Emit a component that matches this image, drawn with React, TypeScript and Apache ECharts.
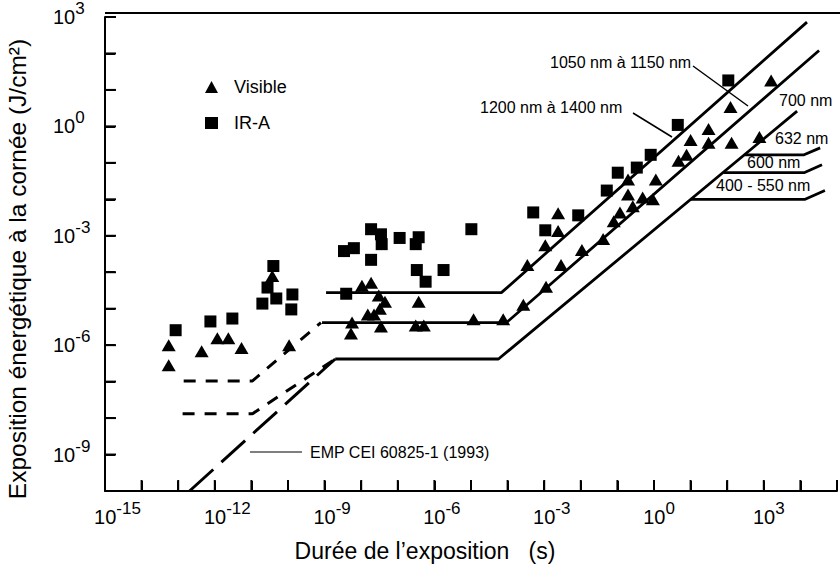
import React, { useEffect, useRef } from 'react';
import * as echarts from 'echarts';

const FONT = '"Liberation Sans", Arial, Helvetica, sans-serif';

// All values are log10: duration (s) and radiant exposure (J/cm²)
// Visible (triangles)
const visibleLogT = [
  -13.26, -13.26, -12.36, -11.93, -11.63, -11.27, -10.43, -9.97,
  -7.98, -7.73, -7.52, -7.35, -7.49, -7.65, -7.82, -8.25, -8.28, -7.46, -6.43, -6.51, -6.29, -4.93, -4.12,
  -2.62, -2.62, -2.97, -3.46, -3.57, -2.95, -2.54, -1.97, -1.39, -1.10, -0.93, -0.71, -0.71, -0.58, -0.31, -0.03, 0.05,
  0.67, 0.89, 1.0, 1.49, 1.49, 2.09, 2.12, 2.88, 3.2,
];
const visibleLogH = [
  -6.0, -6.55, -6.17, -5.81, -5.81, -6.08, -4.1, -6.0,
  -4.37, -4.29, -4.64, -4.81, -5.0, -5.16, -5.16, -5.38, -5.68, -5.49, -4.81, -5.46, -5.46, -5.29, -5.29,
  -2.38, -2.87, -3.26, -3.8, -4.89, -4.4, -3.8, -3.39, -3.09, -2.6, -2.36, -1.87, -1.46, -2.19, -1.95, -2.0, -1.46,
  -0.94, -0.78, -0.37, -0.07, -0.45, 0.53, -0.45, -0.29, 1.26,
];
// IR-A (squares)
const irLogT = [
  -13.07, -12.12, -11.52, -10.4, -10.56, -10.7, -10.32, -9.88, -9.91,
  -8.41, -8.47, -8.2, -7.73, -7.46, -7.44, -7.73, -6.95, -6.43, -6.51, -6.48, -6.24, -5.75, -4.99,
  -3.3, -2.97, -2.07, -1.29, -0.99, -0.47, -0.09, 0.65, 2.03,
];
const irLogH = [
  -5.59, -5.35, -5.27, -3.83, -4.42, -4.86, -4.72, -4.61, -5.02,
  -4.59, -3.42, -3.34, -2.82, -2.96, -3.23, -3.66, -3.06, -3.04, -3.23, -3.94, -4.26, -3.94, -2.82,
  -2.36, -2.85, -2.44, -1.76, -1.27, -1.13, -0.78, 0.04, 1.26,
];

// Limit curves (log10 t, log10 H)
const c1200LogT = [-8.96, -4.17, 4.18];
const c1200LogH = [-4.56, -4.56, 2.86];
const c1050LogT = [-9.07, -4.03, 4.51];
const c1050LogH = [-5.38, -5.38, 2.08];
const c700LogT = [-8.71, -4.25, 3.91];
const c700LogH = [-6.38, -6.38, 0.42];
const b632LogT = [2.47, 4.1, 4.54];
const b632LogH = [-0.78, -0.78, -0.59];
const b600LogT = [1.9, 4.1, 4.59];
const b600LogH = [-1.27, -1.27, -1.05];
const b400LogT = [1.0, 4.13, 4.67];
const b400LogH = [-2.0, -2.0, -1.76];
const dashUpLogT = [-12.85, -10.97, -9.1];
const dashUpLogH = [-6.98, -6.98, -5.38];
const dashLowLogT = [-12.88, -10.97, -8.71];
const dashLowLogH = [-7.88, -7.88, -6.38];
const emp1993LogT = [-12.69, -8.71];
const emp1993LogH = [-10, -6.38];

const xMin = -15, xMax = 5, yMin = -10, yMax = 3;
const xTickValues = [-15, -14, -13, -12, -11, -10, -9, -8, -7, -6, -5, -4, -3, -2, -1, 0, 1, 2, 3, 4, 5];
const yTickValues = [-10, -9, -8, -7, -6, -5, -4, -3, -2, -1, 0, 1, 2, 3];

const supW: Record<number, number> = { 1: 10, 2: 15, 3: 25 };

export default function App() {
  const ref = useRef<HTMLDivElement>(null);
  useEffect(() => {
    const chart = echarts.init(ref.current!, null, { renderer: 'svg' });
    const pairs = (t: number[], h: number[]) => t.map((x, i) => [x, h[i]]);
    const line = (name: string, t: number[], h: number[], type: any, width = 2.8) => ({
      type: 'line', name, data: pairs(t, h), symbol: 'none', silent: true, z: 2,
      lineStyle: { color: '#000', width, type, cap: 'butt' },
    });
    const rich = {
      b: { fontSize: 20, lineHeight: 34, fontFamily: FONT, color: '#000' },
      s: { fontSize: 17, lineHeight: 16, verticalAlign: 'top', fontFamily: FONT, color: '#000' },
      w1: { width: supW[1], lineHeight: 16, fontSize: 17 },
      w2: { width: supW[2], lineHeight: 16, fontSize: 17 },
      w3: { width: supW[3], lineHeight: 16, fontSize: 17 },
    };
    const isDecade3 = (v: number) => {
      const n = Math.round(v);
      return Math.abs(v - n) < 1e-6 && n % 3 === 0 ? n : null;
    };
    const tx = (text: string, x: number, y: number, size = 16) => ({
      type: 'text', x, y, silent: true,
      style: { text, fontSize: size, fontFamily: FONT, fill: '#000', verticalAlign: 'middle', textVerticalAlign: 'middle' },
    });
    const ln = (x1: number, y1: number, x2: number, y2: number, w = 1.5) => ({
      type: 'line', silent: true, z: 10, shape: { x1, y1, x2, y2 }, style: { stroke: '#000', lineWidth: w },
    });
    // inside tick marks as small bars placed through the axes' scales
    const tickMarks = (values: number[], dir: 'x' | 'y') => ({
      type: 'scatter', silent: true, z: 6, clip: false,
      data: values.map((v) => (dir === 'x' ? [v, yMin] : [xMin, v])),
      symbol: 'rect',
      symbolSize: dir === 'x' ? [2, 11] : [11, 2],
      symbolOffset: dir === 'x' ? [0, -5.5] : [5.5, 0],
      itemStyle: { color: '#000', opacity: 1 },
      emphasis: { disabled: true },
    });
    const tick = { show: true, inside: true, length: 10, lineStyle: { color: '#000', width: 2 } };
    chart.setOption({
      animation: false,
      backgroundColor: '#fff',
      grid: { left: 105, right: 0, top: 13, bottom: 77, containLabel: false },
      legend: {
        data: ['Visible', 'IR-A'], orient: 'vertical', left: 200, top: 73,
        itemWidth: 13, itemHeight: 12, itemGap: 18, selectedMode: false,
        textStyle: { fontSize: 18, fontFamily: FONT, color: '#000', lineHeight: 18, padding: [0, 0, 0, 11] },
      },
      xAxis: {
        type: 'value', min: xMin, max: xMax, interval: 1,
        axisLine: { show: true, onZero: false, lineStyle: { color: '#000', width: 2 } },
        axisTick: tick,
        splitLine: { show: false },
        axisLabel: {
          interval: 0, margin: 9, rich,
          formatter: (v: number) => {
            const n = isDecade3(v);
            if (n === null) return '';
            const s = String(n);
            return `{w${s.length}| }{b|10}{s|${s}}`;
          },
        },
      },
      yAxis: {
        type: 'value', min: yMin, max: yMax, interval: 1,
        axisLine: { show: true, onZero: false, lineStyle: { color: '#000', width: 2 } },
        axisTick: tick,
        splitLine: { show: false },
        axisLabel: {
          interval: 0, margin: 52, align: 'left', rich,
          formatter: (v: number) => {
            const n = isDecade3(v);
            if (n === null) return '';
            return `{b|10}{s|${n}}`;
          },
        },
      },
      series: [
        line('1200 nm à 1400 nm', c1200LogT, c1200LogH, 'solid'),
        line('1050 nm à 1150 nm', c1050LogT, c1050LogH, 'solid'),
        line('700 nm', c700LogT, c700LogH, 'solid'),
        line('632 nm', b632LogT, b632LogH, 'solid'),
        line('600 nm', b600LogT, b600LogH, 'solid'),
        line('400 - 550 nm', b400LogT, b400LogH, 'solid'),
        line('dash-up', dashUpLogT, dashUpLogH, [12, 10], 3),
        line('dash-low', dashLowLogT, dashLowLogH, [12, 10], 3),
        line('EMP CEI 60825-1 (1993)', emp1993LogT, emp1993LogH, [32, 11], 3),
        {
          type: 'scatter', name: 'Visible', data: pairs(visibleLogT, visibleLogH),
          symbol: 'triangle', symbolSize: [14, 12], itemStyle: { color: '#000', opacity: 1 }, z: 3, silent: true,
        },
        {
          type: 'scatter', name: 'IR-A', data: pairs(irLogT, irLogH),
          symbol: 'rect', symbolSize: 12, itemStyle: { color: '#000', opacity: 1 }, z: 3, silent: true,
        },
        tickMarks(xTickValues, 'x'),
        tickMarks(yTickValues, 'y'),
      ],
      graphic: [
        ln(105, 13, 840, 13, 2),
        tx('1050 nm à 1150 nm', 550, 62),
        tx('1200 nm à 1400 nm', 480, 107),
        tx('700 nm', 779, 100),
        tx('632 nm', 775, 138),
        tx('600 nm', 747, 162),
        tx('400 - 550 nm', 716, 185),
        tx('EMP CEI 60825-1 (1993)', 310, 452, 16),
        ln(693, 66, 748, 106),
        ln(633, 113, 672, 137),
        ln(250, 452, 302, 452, 1.2),
        {
          type: 'text', x: 425, y: 551, silent: true,
          style: {
            text: 'Durée de l’exposition   (s)', fontSize: 23, fontFamily: FONT, fill: '#000',
            align: 'center', textAlign: 'center', verticalAlign: 'middle', textVerticalAlign: 'middle',
          },
        },
        {
          type: 'text', x: 17, y: 269, rotation: Math.PI / 2, silent: true,
          style: {
            text: 'Exposition énergétique à la cornée (J/cm²)', fontSize: 24.5, fontFamily: FONT, fill: '#000',
            align: 'center', textAlign: 'center', verticalAlign: 'middle', textVerticalAlign: 'middle',
          },
        },
      ],
    });
    return () => chart.dispose();
  }, []);
  return (
    <div
      ref={ref}
      style={{ position: 'fixed', left: 0, top: 0, width: 840, height: 568, background: '#fff' }}
    />
  );
}
